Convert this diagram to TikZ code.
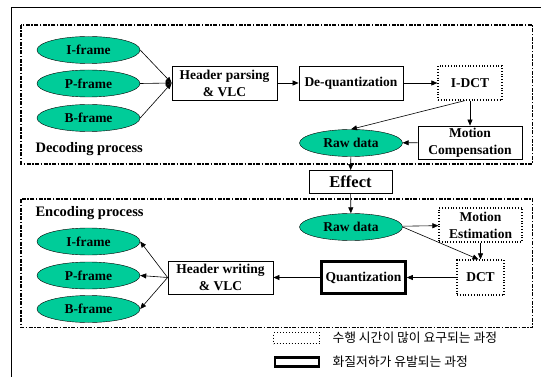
\documentclass[tikz,border=0pt]{standalone}
\usepackage{fontspec}
\setmainfont{Liberation Serif}
\newfontfamily\krfont{Noto Sans CJK KR}
\usetikzlibrary{shapes.geometric,arrows.meta}
\definecolor{framegreen}{RGB}{0,204,153}
\begin{document}
\begin{tikzpicture}[x=1pt,y=-1pt,
  lbl/.style={font=\bfseries\fontsize{13.5}{17}\selectfont},
  frm/.style={ellipse, draw, fill=framegreen, lbl, minimum width=103pt, minimum height=27pt, inner sep=0pt},
  blk/.style={draw, lbl, align=center, inner sep=0pt, line width=0.8pt},
  slow/.style={blk, dotted, line width=1.2pt},
  lossy/.style={blk, line width=2.6pt},
  proc/.style={draw, line width=1.4pt, dash pattern=on 4pt off 1.5pt on 1.5pt off 1.5pt},
  arr/.style={-{Triangle[length=6pt,width=5pt]}, line width=0.6pt}]
\useasboundingbox (0,0) rectangle (541,377);
\draw[line width=0.8pt] (11,380) -- (11,7) -- (545,7);
\draw[proc] (21,25) rectangle (532.5,164);
\draw[proc] (21,199) rectangle (532.5,327.5);
\node[lbl, font=\bfseries\fontsize{14.5}{17}\selectfont, anchor=west] (dlbl) at (32,149) {Decoding process};
\node[lbl, font=\bfseries\fontsize{14.5}{17}\selectfont, anchor=west] (elbl) at (32,213) {Encoding process};
\node[frm] (di) at (88.5,50) {I-frame};
\node[frm] (dp) at (88.5,83.5) {P-frame};
\node[frm] (db) at (88.5,118) {B-frame};
\node[blk, minimum width=105pt, minimum height=34pt] (hp) at (224.5,83) {Header parsing\\\& VLC};
\node[blk, minimum width=104pt, minimum height=34pt] (dq) at (351,83) {De-quantization};
\node[slow, minimum width=64pt, minimum height=34pt] (idct) at (470,83) {I-DCT};
\node[blk, minimum width=104pt, minimum height=33pt] (mc) at (470,142.5) {Motion\\Compensation};
\node[frm] (drd) at (351,143) {Raw data};
\draw[arr] (di.east) -- (hp.west);
\draw[arr] (dp.east) -- (hp.west);
\draw[arr] (db.east) -- (hp.west);
\draw[arr] (hp) -- (dq);
\draw[arr] (dq) -- (idct);
\draw[arr] (idct.south) -- (mc.north);
\draw[arr] ([xshift=-5pt]idct.south) -- (drd.north);
\draw[arr] (mc) -- (drd);
\node[blk, font=\bfseries\fontsize{16.5}{19}\selectfont, minimum width=83pt, minimum height=23pt] (eff) at (350.5,182) {Effect};
\draw[arr] (drd) -- (eff);
\node[frm] (erd) at (351,227) {Raw data};
\draw[arr] (eff) -- (erd);
\node[slow, minimum width=83pt, minimum height=34pt] (me) at (480.5,225) {Motion\\Estimation};
\node[slow, minimum width=47pt, minimum height=35pt] (dct) at (480.5,277.5) {DCT};
\node[lossy, minimum width=84pt, minimum height=32pt] (qt) at (363.5,277.5) {Quantization};
\node[blk, minimum width=105pt, minimum height=33pt] (hw) at (220.5,277.5) {Header writing\\\& VLC};
\node[frm] (ei) at (88.5,241.5) {I-frame};
\node[frm] (ep) at (88.5,275.5) {P-frame};
\node[frm] (eb) at (88.5,309) {B-frame};
\draw[arr] (erd) -- (me);
\draw[arr] (erd.east) -- ([xshift=-2pt]dct.north);
\draw[arr] (me.south) -- (dct.north);
\draw[arr] (dct) -- (qt);
\draw[arr] (qt) -- (hw);
\draw[arr] (hw.west) -- (ei.east);
\draw[arr] (hw.west) -- (ep.east);
\draw[arr] (hw.west) -- (eb.east);
\node[draw, dotted, line width=1pt, minimum width=46pt, minimum height=11pt, inner sep=0pt] (lgs) at (296.5,338) {};
\node[draw, line width=2.4pt, minimum width=44pt, minimum height=9pt, inner sep=0pt] (lgl) at (297,362) {};
\node[anchor=west, font=\krfont\fontsize{12.8}{15}\selectfont] (lgst) at (329,338) {수행 시간이 많이 요구되는 과정};
\node[anchor=west, font=\krfont\fontsize{12.8}{15}\selectfont] (lglt) at (329,362) {화질저하가 유발되는 과정};
\end{tikzpicture}
\end{document}
